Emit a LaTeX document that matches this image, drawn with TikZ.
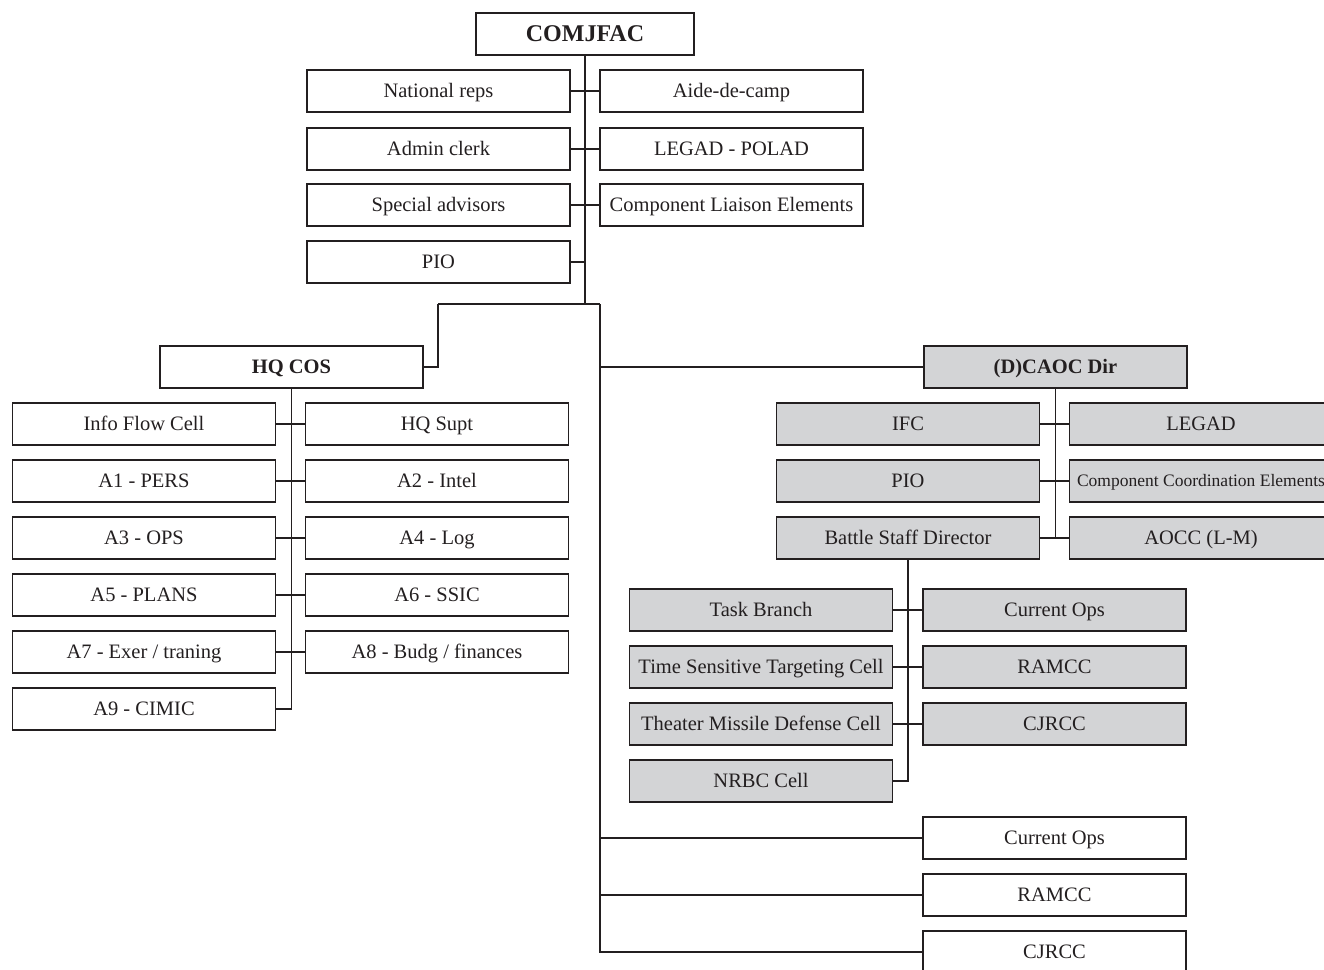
\documentclass[tikz,border=0pt]{standalone}
\usepackage{fontspec}
\setmainfont{Liberation Serif}
\definecolor{cellgrey}{RGB}{211,212,214}
\definecolor{inkline}{RGB}{35,31,32}
\begin{document}
\begin{tikzpicture}[x=1pt,y=-1pt,
  box/.style={draw=inkline, line width=1.8pt, rectangle, inner sep=0pt,
    minimum width=263pt, minimum height=42pt,
    text height=13pt, text depth=0pt,
    font=\fontsize{20.5}{24}\selectfont, text=inkline},
  greybox/.style={box, fill=cellgrey},
  headbox/.style={box, font=\fontsize{20.5}{24}\selectfont\bfseries},
  link/.style={draw=inkline, line width=1.8pt}]
\useasboundingbox (0,0) rectangle (1324,969);
\clip (0,0) rectangle (1324,969);

% Commander and personal staff
\node[headbox, minimum width=218pt, text height=15.5pt, font=\fontsize{24}{28}\selectfont\bfseries] (com) at (585,34) {COMJFAC};
\node[box] (natrep) at (438.5,91) {National reps};
\node[box] (admin)  at (438.5,149) {Admin clerk};
\node[box] (spec)   at (438.5,205) {Special advisors};
\node[box] (pio)    at (438.5,262) {PIO};
\node[box] (aide)   at (731.5,91) {Aide-de-camp};
\node[box] (legpol) at (731.5,149) {LEGAD - POLAD};
\node[box] (cle)    at (731.5,205) {Component Liaison Elements};

% HQ chief of staff and A-staff
\node[headbox] (hqcos) at (291.5,367) {HQ COS};
\node[box] (ifc) at (144,424) {Info Flow Cell};
\node[box] (a1)  at (144,481) {A1 - PERS};
\node[box] (a3)  at (144,538) {A3 - OPS};
\node[box] (a5)  at (144,595) {A5 - PLANS};
\node[box] (a7)  at (144,652) {A7 - Exer / traning};
\node[box] (a9)  at (144,709) {A9 - CIMIC};
\node[box] (hqs) at (437,424) {HQ Supt};
\node[box] (a2)  at (437,481) {A2 - Intel};
\node[box] (a4)  at (437,538) {A4 - Log};
\node[box] (a6)  at (437,595) {A6 - SSIC};
\node[box] (a8)  at (437,652) {A8 - Budg / finances};

% (D)CAOC
\node[greybox, font=\fontsize{20.5}{24}\selectfont\bfseries] (caoc) at (1055.5,367) {(D)CAOC Dir};
\node[greybox] (cifc)  at (908,424) {IFC};
\node[greybox] (cpio)  at (908,481) {PIO};
\node[greybox] (bsd)   at (908,538) {Battle Staff Director};
\node[greybox] (legad) at (1201,424) {LEGAD};
\node[greybox, text height=11pt, font=\fontsize{17.5}{21}\selectfont] (cce) at (1201,481) {Component Coordination Elements};
\node[greybox] (aocc)  at (1201,538) {AOCC (L-M)};

% Battle staff cells
\node[greybox] (task) at (761,610) {Task Branch};
\node[greybox] (tst)  at (761,667) {Time Sensitive Targeting Cell};
\node[greybox] (tmd)  at (761,724) {Theater Missile Defense Cell};
\node[greybox] (nrbc) at (761,781) {NRBC Cell};
\node[greybox] (bcur) at (1054.5,610) {Current Ops};
\node[greybox] (bram) at (1054.5,667) {RAMCC};
\node[greybox] (bcj)  at (1054.5,724) {CJRCC};

% Directly subordinate centres
\node[box] (cur) at (1054.5,838) {Current Ops};
\node[box] (ram) at (1054.5,895) {RAMCC};
\node[box] (cj)  at (1054.5,952) {CJRCC};

% Junctions of the main trunk
\coordinate (jc) at (585,304);
\coordinate (jl) at (438,304);
\coordinate (jr) at (600,304);

% Commander's trunk and staff branches
\draw[link] (com.south) -- (jc);
\draw[link] (natrep.east) -- (aide.west);
\draw[link] (admin.east) -- (legpol.west);
\draw[link] (spec.east) -- (cle.west);
\draw[link] (pio.east) -- (pio.east -| jc);
\draw[link] (jl) -- (jr);
\draw[link] (jl) |- (hqcos.east);
\draw[link] (jr) |- (cj.west);
\draw[link] (caoc.west) -- (caoc.west -| jr);
\draw[link] (cur.west) -- (cur.west -| jr);
\draw[link] (ram.west) -- (ram.west -| jr);

% HQ COS branches
\draw[link] (hqcos.south) |- (a9.east);
\draw[link] (ifc.east) -- (hqs.west);
\draw[link] (a1.east) -- (a2.west);
\draw[link] (a3.east) -- (a4.west);
\draw[link] (a5.east) -- (a6.west);
\draw[link] (a7.east) -- (a8.west);

% (D)CAOC branches
\draw[link] (caoc.south) |- (bsd.east);
\draw[link] (cifc.east) -- (legad.west);
\draw[link] (cpio.east) -- (cce.west);
\draw[link] (bsd.east) -- (aocc.west);

% Battle staff branches
\draw[link] (bsd.south) |- (nrbc.east);
\draw[link] (task.east) -- (bcur.west);
\draw[link] (tst.east) -- (bram.west);
\draw[link] (tmd.east) -- (bcj.west);
\end{tikzpicture}
\end{document}
